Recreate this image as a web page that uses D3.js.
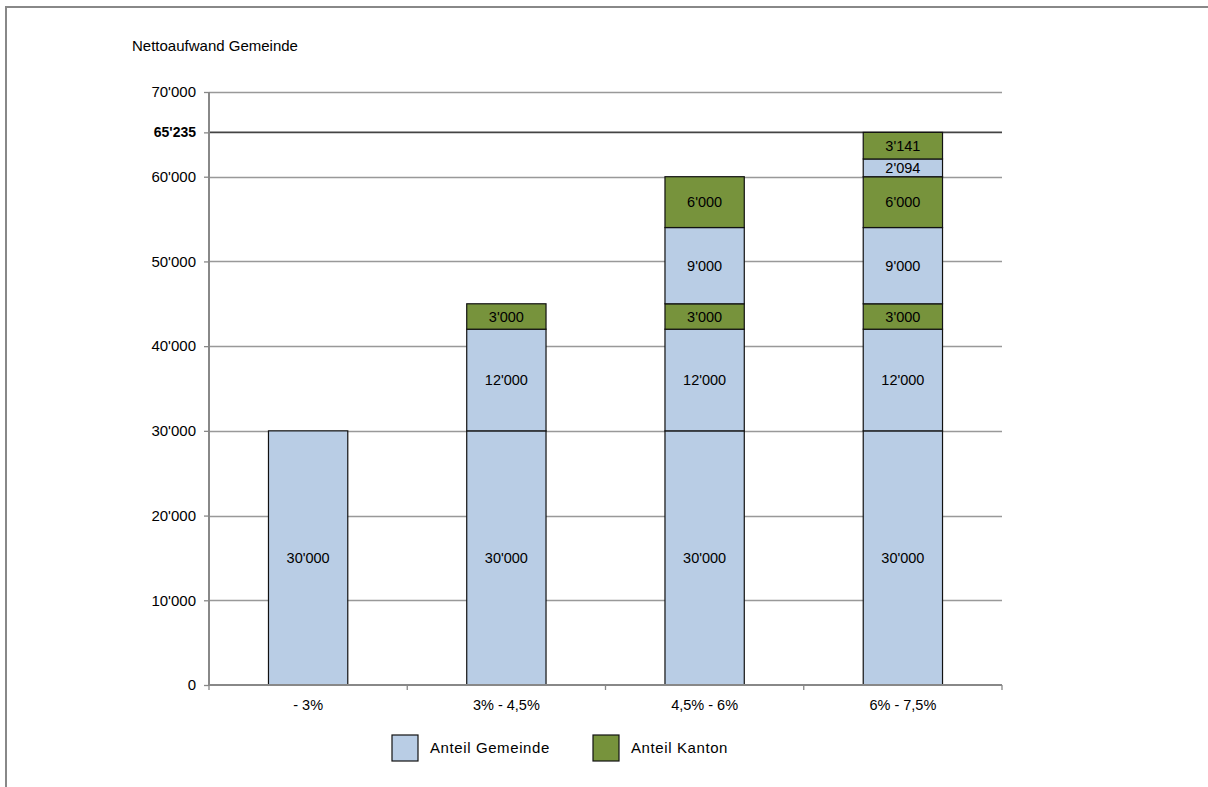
<!DOCTYPE html>
<html>
<head>
<meta charset="utf-8">
<script src="https://cdn.jsdelivr.net/npm/d3@7"></script>
<style>
  body { margin: 0; background: #fff; }
  text { font-family: "Liberation Sans", Arial, sans-serif; fill: #000; }
</style>
</head>
<body>
<svg id="chart" width="1208" height="787"></svg>
<script>
// data
var categories = ["- 3%", "3% - 4,5%", "4,5% - 6%", "6% - 7,5%"];
var layers = ["g1", "g2", "k1", "g3", "k2", "g4", "k3"];
var layerType = { g1: "G", g2: "G", k1: "K", g3: "G", k2: "K", g4: "G", k3: "K" };
var g1 = [30000, 30000, 30000, 30000];
var g2 = [0, 12000, 12000, 12000];
var k1 = [0, 3000, 3000, 3000];
var g3 = [0, 0, 9000, 9000];
var k2 = [0, 0, 6000, 6000];
var g4 = [0, 0, 0, 2094];
var k3 = [0, 0, 0, 3141];
var yTicks = [0, 10000, 20000, 30000, 40000, 50000, 60000, 70000];
var markValue = 65235;
var legendItems = [{ key: "G", label: "Anteil Gemeinde" }, { key: "K", label: "Anteil Kanton" }];

var colors = { G: "#b9cde5", K: "#77933c" };

var rows = categories.map(function(c, i) {
  return { cat: c, g1: g1[i], g2: g2[i], k1: k1[i], g3: g3[i], k2: k2[i], g4: g4[i], k3: k3[i] };
});

var fmt = function(v) { return d3.format(",")(v).replace(/,/g, "'"); };

var svg = d3.select("#chart");

// outer frame
svg.append("rect")
  .attr("x", 6).attr("y", 7)
  .attr("width", 1240).attr("height", 820)
  .attr("fill", "none")
  .attr("stroke", "#888")
  .attr("stroke-width", 2);

var plotL = 209, plotR = 1002, plotT = 92, plotB = 685;

var x = d3.scaleBand().domain(categories).range([plotL, plotR]).paddingInner(0.6).paddingOuter(0.3);
var xb = d3.scaleBand().domain(categories).range([plotL, plotR]);
var y = d3.scaleLinear().domain([0, 70000]).range([plotB, plotT]);

// title
svg.append("text")
  .attr("x", 132).attr("y", 51)
  .style("font-size", "15px")
  .text("Nettoaufwand Gemeinde");

// gridlines
svg.append("g")
  .selectAll("line")
  .data(yTicks.filter(function(d) { return d > 0; }))
  .enter().append("line")
  .attr("x1", plotL).attr("x2", plotR)
  .attr("y1", function(d) { return Math.round(y(d)) + 0.5; })
  .attr("y2", function(d) { return Math.round(y(d)) + 0.5; })
  .attr("stroke", "#999")
  .attr("stroke-width", 1.3);

// marker line for the total
svg.append("line")
  .attr("x1", plotL).attr("x2", plotR)
  .attr("y1", y(markValue)).attr("y2", y(markValue))
  .attr("stroke", "#444")
  .attr("stroke-width", 1.6);

// y axis
var yAxis = svg.append("g")
  .attr("transform", "translate(" + plotL + ",0)")
  .call(d3.axisLeft(y).tickValues(yTicks.concat([markValue])).tickSize(5).tickPadding(8)
    .tickFormat(function(d) { return d === 0 ? "0" : fmt(d); }));
yAxis.select(".domain").attr("stroke", "#888").attr("stroke-width", 2).attr("d", "M0," + plotT + "V" + plotB);
yAxis.selectAll(".tick line").attr("stroke", "#888").attr("stroke-width", 1.3);
yAxis.selectAll(".tick text")
  .attr("fill", "#000")
  .style("font-weight", function(d) { return d === markValue ? "bold" : "normal"; })
  .style("font-size", function(d) { return d === markValue ? "14px" : "15px"; });

// stacked bars
var stack = d3.stack().keys(layers);
var series = stack(rows);

var groups = svg.append("g").selectAll("g")
  .data(series)
  .enter().append("g")
  .attr("fill", function(s) { return colors[layerType[s.key]]; });

groups.selectAll("rect")
  .data(function(s) { return s.filter(function(d) { return d[1] > d[0]; }); })
  .enter().append("rect")
  .attr("x", function(d) { return x(d.data.cat); })
  .attr("width", x.bandwidth())
  .attr("y", function(d) { return y(d[1]); })
  .attr("height", function(d) { return y(d[0]) - y(d[1]); })
  .attr("stroke", "#111")
  .attr("stroke-width", 1.2);

groups.selectAll("text")
  .data(function(s) { return s.filter(function(d) { return d[1] > d[0]; }); })
  .enter().append("text")
  .attr("x", function(d) { return x(d.data.cat) + x.bandwidth() / 2; })
  .attr("y", function(d) { return (y(d[0]) + y(d[1])) / 2; })
  .attr("dy", "0.36em")
  .attr("text-anchor", "middle")
  .attr("fill", "#000")
  .style("font-size", "14.5px")
  .text(function(d) { return fmt(d[1] - d[0]); });

// x axis
var xAxis = svg.append("g")
  .attr("transform", "translate(0," + plotB + ")")
  .call(d3.axisBottom(xb).tickSize(0).tickPadding(15));
xAxis.select(".domain").attr("stroke", "#888").attr("stroke-width", 2).attr("d", "M" + plotL + ",0H" + plotR);
xAxis.selectAll(".tick text").style("font-size", "14.5px").attr("fill", "#000");

svg.append("g").selectAll("line")
  .data(d3.range(categories.length + 1))
  .enter().append("line")
  .attr("x1", function(i) { return plotL + i * xb.step(); })
  .attr("x2", function(i) { return plotL + i * xb.step(); })
  .attr("y1", plotB).attr("y2", plotB + 5)
  .attr("stroke", "#888")
  .attr("stroke-width", 1.3);

// legend
var legend = svg.append("g").selectAll("g")
  .data(legendItems)
  .enter().append("g")
  .attr("transform", function(d, i) { return "translate(" + (392 + i * 201) + ",735)"; });
legend.append("rect")
  .attr("width", 26).attr("height", 26)
  .attr("fill", function(d) { return colors[d.key]; })
  .attr("stroke", "#111")
  .attr("stroke-width", 1.2);
legend.append("text")
  .attr("x", 38).attr("y", 13)
  .attr("dy", "0.36em")
  .style("font-size", "15px")
  .style("letter-spacing", "0.6px")
  .text(function(d) { return d.label; });
</script>
</body>
</html>
